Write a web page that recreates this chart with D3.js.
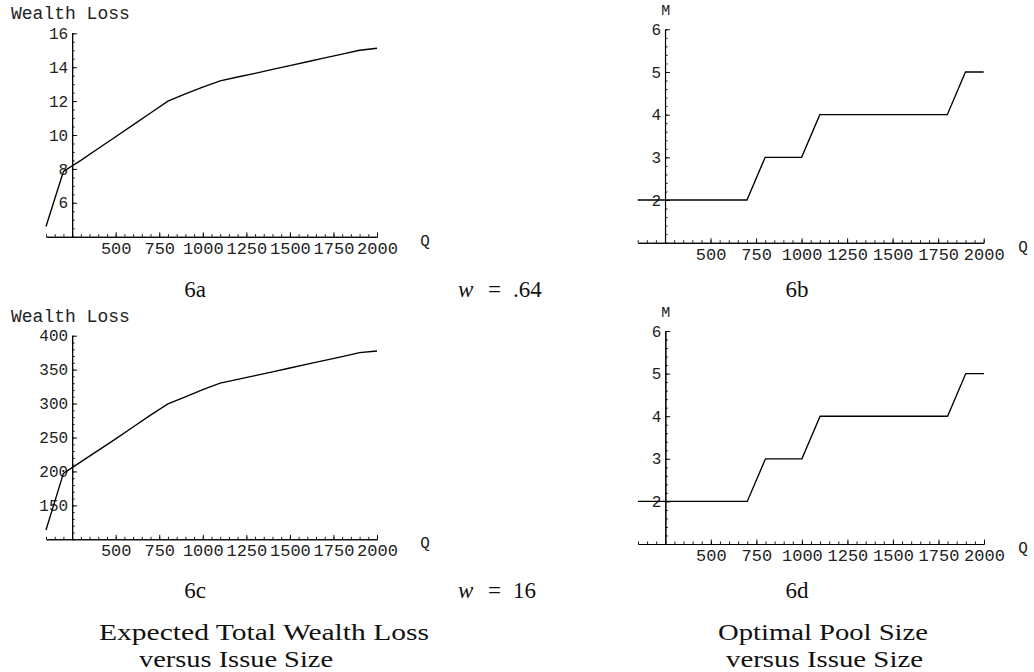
<!DOCTYPE html>
<html>
<head>
<meta charset="utf-8">
<script src="https://cdn.jsdelivr.net/npm/d3@7"></script>
<style>
  body { margin: 0; background: #fff; }
  svg { display: block; }
  .mono { font-family: "Liberation Mono", "DejaVu Sans Mono", monospace; fill: #222; }
  .serif { font-family: "Liberation Serif", "DejaVu Serif", serif; fill: #111; }
</style>
</head>
<body>
<div id="chart"></div>
<script>
// issue size Q (sampled every 100)
var issueSize = [100, 200, 300, 400, 500, 600, 700, 800, 900, 1000,
                 1100, 1200, 1300, 1400, 1500, 1600, 1700, 1800, 1900, 2000];

// expected total wealth loss, w = .64 (6a) and w = 16 (6c)
var lossW064 = [4.6, 7.85, 8.5, 9.2, 9.9, 10.6, 11.3, 12.0, 12.42, 12.82,
                13.19, 13.42, 13.64, 13.87, 14.09, 14.32, 14.55, 14.77, 15.0, 15.12];
var lossW16 = [113.7, 197.2, 214, 231, 248, 265.5, 283, 299.5, 310, 320.5,
               330, 335.6, 341.2, 346.8, 352.4, 358, 363.6, 369.3, 375, 377.5];

// optimal pool size M (6b, 6d)
var poolW064 = [2, 2, 2, 2, 2, 2, 2, 3, 3, 3, 4, 4, 4, 4, 4, 4, 4, 4, 5, 5];
var poolW16 = [2, 2, 2, 2, 2, 2, 2, 3, 3, 3, 4, 4, 4, 4, 4, 4, 4, 4, 5, 5];

// tick labels
var xTicks = [500, 750, 1000, 1250, 1500, 1750, 2000];
var lossTicksA = [6, 8, 10, 12, 14, 16];
var lossTicksC = [150, 200, 250, 300, 350, 400];
var poolTicks = [2, 3, 4, 5, 6];

var width = 1034, height = 672;
var fmt = d3.format("d");

var svg = d3.select("#chart").append("svg")
    .attr("width", width)
    .attr("height", height);

// one config per panel
var panels = [
  { values: lossW064, xr: [46, 377], yr: [236.7, 33.3], ydom: [4, 16],
    yticks: lossTicksA, yminor: 0.5, ylab: "Wealth Loss", ylabX: 11, ylabY: 19, ylabAnchor: "start",
    qX: 425 },
  { values: poolW064, xr: [637.7, 983.7], yr: [242.7, 29.3], ydom: [1, 6],
    yticks: poolTicks, yminor: 0.2, ylab: "M", ylabX: 665.7, ylabY: 15, ylabAnchor: "middle",
    qX: 1023 },
  { values: lossW16, xr: [46, 377], yr: [539.3, 335.7], ydom: [100, 400],
    yticks: lossTicksC, yminor: 10, ylab: "Wealth Loss", ylabX: 11, ylabY: 322, ylabAnchor: "start",
    qX: 425 },
  { values: poolW16, xr: [638, 984], yr: [544, 331], ydom: [1, 6],
    yticks: poolTicks, yminor: 0.2, ylab: "M", ylabX: 665.7, ylabY: 317, ylabAnchor: "middle",
    qX: 1023 }
];

panels.forEach(function (p) {
  var x = d3.scaleLinear().domain([100, 2000]).range(p.xr);
  var y = d3.scaleLinear().domain(p.ydom).range(p.yr);
  var g = svg.append("g");

  var x0 = x(250), y0 = y(p.ydom[0]);

  // minor ticks first, then the major axis on top
  var xMinor = d3.range(100, 2001, 50);
  g.append("g")
      .attr("transform", "translate(0," + y0 + ")")
      .call(d3.axisBottom(x).tickValues(xMinor).tickSizeInner(-2.5).tickSizeOuter(0).tickFormat(""));
  g.append("g")
      .attr("class", "xaxis")
      .attr("transform", "translate(0," + y0 + ")")
      .call(d3.axisBottom(x).tickValues(xTicks).tickFormat(fmt)
        .tickSizeInner(-4.5).tickSizeOuter(0).tickPadding(5));

  var yMinor = d3.range(p.ydom[0], p.ydom[1] + p.yminor / 2, p.yminor);
  g.append("g")
      .attr("transform", "translate(" + x0 + ",0)")
      .call(d3.axisLeft(y).tickValues(yMinor).tickSizeInner(-2.5).tickSizeOuter(0).tickFormat(""));
  g.append("g")
      .attr("class", "yaxis")
      .attr("transform", "translate(" + x0 + ",0)")
      .call(d3.axisLeft(y).tickValues(p.yticks).tickFormat(fmt)
        .tickSizeInner(-5).tickSizeOuter(0).tickPadding(4));

  g.selectAll(".domain").attr("stroke", "#000").attr("stroke-width", 1.1);
  g.selectAll(".tick line").attr("stroke", "#000").attr("stroke-width", 0.9);
  g.selectAll(".xaxis text")
      .attr("class", "mono")
      .attr("fill", null)
      .style("font-size", "17px");
  g.selectAll(".yaxis text")
      .attr("class", "mono")
      .attr("fill", null)
      .style("font-size", "16px");

  // data line
  var line = d3.line()
      .x(function (d, i) { return x(issueSize[i]); })
      .y(function (d) { return y(d); });
  g.append("path")
      .datum(p.values)
      .attr("d", line)
      .attr("fill", "none")
      .attr("stroke", "#000")
      .attr("stroke-width", 1.35);

  // axis labels
  g.append("text")
      .attr("class", "mono")
      .attr("x", p.ylabX)
      .attr("y", p.ylabY)
      .attr("text-anchor", p.ylabAnchor)
      .style("font-size", p.ylab === "M" ? "15px" : "18px")
      .text(p.ylab);
  g.append("text")
      .attr("class", "mono")
      .attr("x", p.qX)
      .attr("y", y0 + 9)
      .attr("text-anchor", "middle")
      .style("font-size", "16px")
      .text("Q");
});

// captions
var subLabels = [
  { t: "6a", x: 195, y: 297 },
  { t: "6b", x: 797, y: 297 },
  { t: "6c", x: 195, y: 598 },
  { t: "6d", x: 797, y: 598 }
];
svg.selectAll("text.sub")
    .data(subLabels)
    .enter().append("text")
    .attr("class", "serif sub")
    .attr("x", function (d) { return d.x; })
    .attr("y", function (d) { return d.y; })
    .attr("text-anchor", "middle")
    .style("font-size", "23px")
    .text(function (d) { return d.t; });

var wLabels = [
  { v: ".64", y: 297 },
  { v: "16", y: 598 }
];
wLabels.forEach(function (d) {
  var t = svg.append("text")
      .attr("class", "serif")
      .attr("y", d.y)
      .style("font-size", "23px");
  t.append("tspan").attr("x", 458).style("font-style", "italic").text("w");
  t.append("tspan").attr("x", 488).text("=");
  t.append("tspan").attr("x", 513).text(d.v);
});

var captions = [
  { t: "Expected Total Wealth Loss", x: 99, y: 640, w: 330 },
  { t: "versus Issue Size", x: 139, y: 667, w: 194 },
  { t: "Optimal Pool Size", x: 718, y: 640, w: 210 },
  { t: "versus Issue Size", x: 726, y: 667, w: 197 }
];
svg.selectAll("text.cap")
    .data(captions)
    .enter().append("text")
    .attr("class", "serif cap")
    .attr("x", function (d) { return d.x; })
    .attr("y", function (d) { return d.y; })
    .attr("textLength", function (d) { return d.w; })
    .attr("lengthAdjust", "spacingAndGlyphs")
    .style("font-size", "24px")
    .text(function (d) { return d.t; });
</script>
</body>
</html>
